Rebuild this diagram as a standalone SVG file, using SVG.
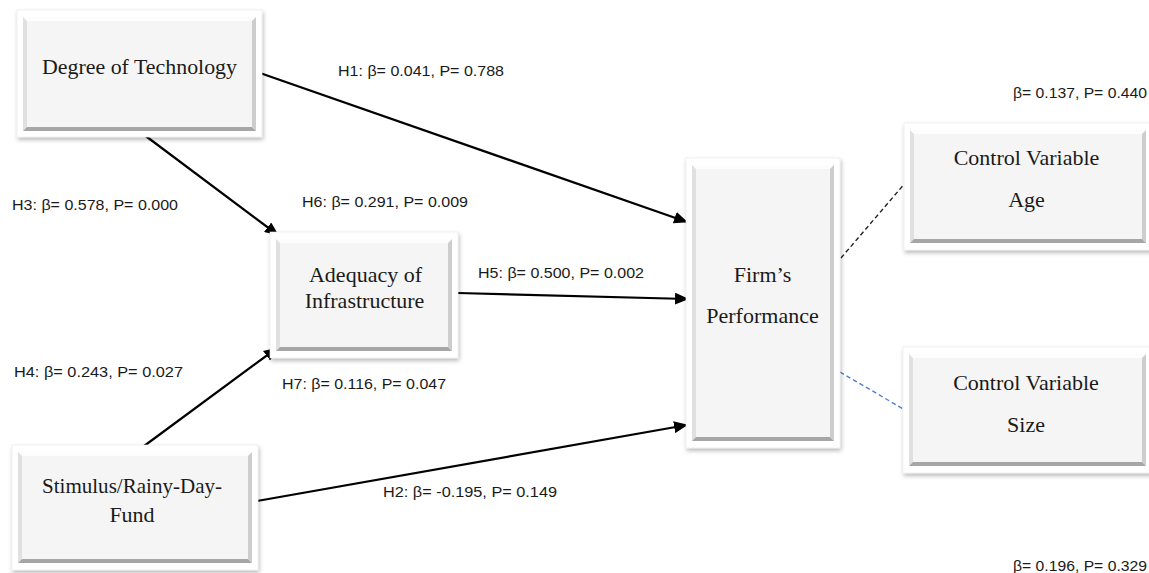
<svg xmlns="http://www.w3.org/2000/svg" width="1149" height="573" viewBox="0 0 1149 573">
<style>
.frame{fill:#ffffff;stroke:#e8e8e8;stroke-width:0.6}
.bt{fill:#fdfdfd}
.bl{fill:#e0e0e0}
.br{fill:#cdcdcd}
.bb{fill:#a6a6a6}
.face{fill:#f5f5f5}
.nt{font-family:"Liberation Serif","Times New Roman",serif;font-size:22px;fill:#1a1a1a;text-anchor:middle}
.lb{font-family:"Liberation Sans",Arial,sans-serif;font-size:15.5px;fill:#1a1a1a}
.arr{stroke:#000;stroke-width:2.2;fill:none;marker-end:url(#ah)}
.dash{stroke:#222;stroke-width:1.4;stroke-dasharray:4.5 3;fill:none}
.dashb{stroke:#4f7fcc;stroke-width:1.4;stroke-dasharray:4.5 3;fill:none}
</style>
<defs>
<filter id="sh" x="-10%" y="-10%" width="120%" height="125%">
<feDropShadow dx="1" dy="2.5" stdDeviation="2.2" flood-color="#000" flood-opacity="0.28"/>
</filter>
<marker id="ah" markerUnits="userSpaceOnUse" markerWidth="14" markerHeight="12" refX="13" refY="6" orient="auto">
<path d="M0,0 L14,6 L0,12 Z" fill="#000"/>
</marker>
</defs>
<rect width="1149" height="573" fill="#ffffff"/>

<g id="connectors">
<line class="arr" x1="260" y1="73" x2="687" y2="222"/>
<line class="arr" x1="143" y1="134" x2="278" y2="235"/>
<line class="arr" x1="458" y1="293" x2="688" y2="299"/>
<line class="arr" x1="140" y1="449" x2="277" y2="348"/>
<line class="arr" x1="257" y1="501" x2="687" y2="425"/>
<line class="dash" x1="841" y1="258" x2="906" y2="182"/>
<line class="dashb" x1="840" y1="372" x2="905" y2="410"/>
</g>

<g id="node-degree">
<rect class="frame" x="17" y="10" width="245" height="127" filter="url(#sh)"/>
<polygon class="bt" points="23,17 256,17 252,21 27,21"/>
<polygon class="bl" points="23,17 27,21 27,127 23,131"/>
<polygon class="br" points="256,17 256,131 252,127 252,21"/>
<polygon class="bb" points="23,131 256,131 252,127 27,127"/>
<rect class="face" x="27" y="21" width="225" height="106"/>
<text class="nt" x="139.5" y="74" textLength="195" lengthAdjust="spacingAndGlyphs">Degree of Technology</text>
</g>

<g id="node-adequacy">
<rect class="frame" x="270" y="232" width="188" height="126" filter="url(#sh)"/>
<polygon class="bt" points="276,239 452,239 448,243 280,243"/>
<polygon class="bl" points="276,239 280,243 280,347 276,351"/>
<polygon class="br" points="452,239 452,351 448,347 448,243"/>
<polygon class="bb" points="276,351 452,351 448,347 280,347"/>
<rect class="face" x="280" y="243" width="168" height="104"/>
<text class="nt" x="365.5" y="282">Adequacy of</text>
<text class="nt" x="364.5" y="308">Infrastructure</text>
</g>

<g id="node-firm">
<rect class="frame" x="686" y="158" width="154" height="290" filter="url(#sh)"/>
<polygon class="bt" points="692,165 834,165 830,169 696,169"/>
<polygon class="bl" points="692,165 696,169 696,437 692,441"/>
<polygon class="br" points="834,165 834,441 830,437 830,169"/>
<polygon class="bb" points="692,441 834,441 830,437 696,437"/>
<rect class="face" x="696" y="169" width="134" height="268"/>
<text class="nt" x="762.5" y="282">Firm’s</text>
<text class="nt" x="762.5" y="323">Performance</text>
</g>

<g id="node-age">
<rect class="frame" x="904" y="123" width="250" height="127" filter="url(#sh)"/>
<polygon class="bt" points="910,130 1146,130 1142,134 914,134"/>
<polygon class="bl" points="910,130 914,134 914,239 910,243"/>
<polygon class="br" points="1146,130 1146,243 1142,239 1142,134"/>
<polygon class="bb" points="910,243 1146,243 1142,239 914,239"/>
<rect class="face" x="914" y="134" width="228" height="105"/>
<text class="nt" x="1026.5" y="165">Control Variable</text>
<text class="nt" x="1026.5" y="207">Age</text>
</g>

<g id="node-size">
<rect class="frame" x="903" y="347" width="250" height="126" filter="url(#sh)"/>
<polygon class="bt" points="909,354 1146,354 1142,358 913,358"/>
<polygon class="bl" points="909,354 913,358 913,462 909,466"/>
<polygon class="br" points="1146,354 1146,466 1142,462 1142,358"/>
<polygon class="bb" points="909,466 1146,466 1142,462 913,462"/>
<rect class="face" x="913" y="358" width="229" height="104"/>
<text class="nt" x="1026" y="390">Control Variable</text>
<text class="nt" x="1026" y="432">Size</text>
</g>

<g id="node-stimulus">
<rect class="frame" x="12" y="445" width="246" height="125" filter="url(#sh)"/>
<polygon class="bt" points="18,452 252,452 248,456 22,456"/>
<polygon class="bl" points="18,452 22,456 22,559 18,563"/>
<polygon class="br" points="252,452 252,563 248,559 248,456"/>
<polygon class="bb" points="18,563 252,563 248,559 22,559"/>
<rect class="face" x="22" y="456" width="226" height="103"/>
<text class="nt" x="132" y="493" textLength="180" lengthAdjust="spacingAndGlyphs">Stimulus/Rainy-Day-</text>
<text class="nt" x="132" y="522">Fund</text>
</g>

<g id="labels">
<text class="lb" x="338" y="76" textLength="166" lengthAdjust="spacingAndGlyphs">H1: β= 0.041, P= 0.788</text>
<text class="lb" x="1013" y="98" textLength="134" lengthAdjust="spacingAndGlyphs">β= 0.137, P= 0.440</text>
<text class="lb" x="12" y="210" textLength="166" lengthAdjust="spacingAndGlyphs">H3: β= 0.578, P= 0.000</text>
<text class="lb" x="302" y="207" textLength="166" lengthAdjust="spacingAndGlyphs">H6: β= 0.291, P= 0.009</text>
<text class="lb" x="478" y="278" textLength="166" lengthAdjust="spacingAndGlyphs">H5: β= 0.500, P= 0.002</text>
<text class="lb" x="14" y="377" textLength="169" lengthAdjust="spacingAndGlyphs">H4:  β= 0.243, P= 0.027</text>
<text class="lb" x="282" y="389" textLength="164" lengthAdjust="spacingAndGlyphs">H7: β= 0.116, P= 0.047</text>
<text class="lb" x="383" y="497" textLength="174" lengthAdjust="spacingAndGlyphs">H2: β= -0.195, P= 0.149</text>
<text class="lb" x="1013" y="571" textLength="134" lengthAdjust="spacingAndGlyphs">β= 0.196, P= 0.329</text>
</g>
</svg>
